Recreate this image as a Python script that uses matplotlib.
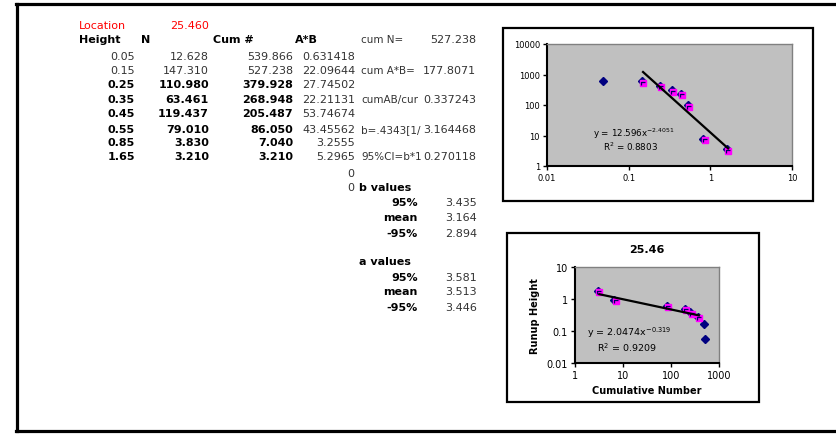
#spreadsheet sheet with two log-log runup charts
import matplotlib
matplotlib.use("Agg")
import matplotlib.pyplot as plt
from matplotlib.lines import Line2D
from matplotlib.patches import Rectangle
from matplotlib.path import Path
from matplotlib.ticker import FixedLocator, FixedFormatter, NullLocator
import matplotlib.transforms as mtrans
import numpy as np

#table data
location = "25.460"
height = [0.05, 0.15, 0.25, 0.35, 0.45, 0.55, 0.85, 1.65]
n_vals = [12.628, 147.310, 110.980, 63.461, 119.437, 79.010, 3.830, 3.210]
cum = [539.866, 527.238, 379.928, 268.948, 205.487, 86.050, 7.040, 3.210]
ab = ["0.631418", "22.09644", "27.74502", "22.21131", "53.74674", "43.45562", "3.2555", "5.2965"]
#labels as they show in the sheet (cut off by the next cell)
side_names = ["cum N=", "cum A*B=", "cumAB/cur", "b=.4343[1/", "95%CI=b*1"]
side_vals = ["527.238", "177.8071", "0.337243", "3.164468", "0.270118"]
b_stats = ["3.435", "3.164", "2.894"]
a_stats = ["3.581", "3.513", "3.446"]
stat_names = ["95%", "mean", "-95%"]

#trendline coefficients shown on the charts
fit1 = (12.596, -2.4051, "0.8803")
fit2 = (2.0474, -0.319, "0.9209")

W, H = 836, 435
fig = plt.figure(figsize=(W / 100, H / 100), dpi=100)

def fx(x):
    return x / W

def fy(y):
    return 1 - y / H

def put(x, y, s, ha="left", bold=False, color="black", size=8):
    return fig.text(fx(x), fy(y), s, ha=ha, va="center", fontsize=size,
                    fontweight="bold" if bold else "normal", color=color)

#sheet frame
for xs, ys in [([16, W], [5, 5]), ([17, 17], [5, 432]), ([16, W], [432, 432])]:
    fig.add_artist(Line2D([fx(v) for v in xs], [fy(v) for v in ys], color="black", lw=2.3))

#table
put(79, 26, "Location", color="red")
put(209, 26, location, ha="right", color="red")
put(79, 40, "Height", bold=True)
put(141, 40, "N", bold=True)
put(213, 40, "Cum #", bold=True)
put(295, 40, "A*B", bold=True)
rows_y = [57, 71, 85, 100, 114, 130, 143, 157]
for i, y in enumerate(rows_y):
    b = i >= 2
    col = "black" if b else "#333333"
    put(135, y, f"{height[i]:.2f}", ha="right", bold=b, color=col)
    put(209, y, f"{n_vals[i]:.3f}", ha="right", bold=b, color=col)
    put(293, y, f"{cum[i]:.3f}", ha="right", bold=b, color=col)
    put(355, y, ab[i], ha="right", color="#333333")

side_y = [40, 71, 100, 130, 157]
for name, val, y in zip(side_names, side_vals, side_y):
    put(361, y, name, color="#333333", size=7.5)
    put(476, y, val, ha="right", color="#333333")
put(354, 174, "0", ha="right", color="#333333")
put(354, 188, "0", ha="right", color="#333333")
put(359, 188, "b values", bold=True)
for name, val, y in zip(stat_names, b_stats, [203, 218, 234]):
    put(418, y, name, ha="right", bold=True)
    put(477, y, val, ha="right", color="#333333")
put(359, 262, "a values", bold=True)
for name, val, y in zip(stat_names, a_stats, [278, 292, 308]):
    put(418, y, name, ha="right", bold=True)
    put(477, y, val, ha="right", color="#333333")

#chart boxes
for x0, y0, x1, y1 in [(503, 29, 813, 202), (507, 234, 759, 403)]:
    fig.add_artist(Rectangle((fx(x0), fy(y1)), fx(x1 - x0), (y1 - y0) / H,
                             transform=fig.transFigure, fill=False, ec="black", lw=1.6))

def style(ax, xt, yt, size):
    ax.set_xscale("log")
    ax.set_yscale("log")
    ax.set_facecolor("#C0C0C0")
    for s in ["top", "right"]:
        ax.spines[s].set_color("#808080")
        ax.spines[s].set_linewidth(1)
    for s in ["left", "bottom"]:
        ax.spines[s].set_color("black")
        ax.spines[s].set_linewidth(1.5)
    ax.xaxis.set_major_locator(FixedLocator(xt))
    ax.xaxis.set_major_formatter(FixedFormatter([f"{v:g}" for v in xt]))
    ax.yaxis.set_major_locator(FixedLocator(yt))
    ax.yaxis.set_major_formatter(FixedFormatter([f"{v:g}" for v in yt]))
    ax.xaxis.set_minor_locator(NullLocator())
    ax.yaxis.set_minor_locator(NullLocator())
    ax.tick_params(direction="out", length=3, width=1, labelsize=size, pad=2)
    ax.set_xlim(xt[0], xt[-1])
    ax.set_ylim(yt[0], yt[-1])

shift = mtrans.ScaledTranslation(-1.2 / 100, 1.5 / 100, fig.dpi_scale_trans)
#small dark corner mark drawn inside each pink square
corner = Path([(-0.5, -0.7), (-0.5, 0.4), (0.5, 0.4)], [Path.MOVETO, Path.LINETO, Path.LINETO])

def markers(ax, xs, ys, xs2, ys2):
    ax.plot(xs, ys, "D", color="#000080", ms=4, ls="none", zorder=3,
            transform=ax.transData + shift)
    ax.plot(xs2, ys2, "s", color="#FF00FF", ms=5, ls="none", zorder=4)
    ax.plot(xs2, ys2, marker=corner, ms=3.2, mfc="none", mec="#000060", mew=0.9,
            ls="none", zorder=4.5)

#chart 1: cumulative number vs height
ax1 = fig.add_axes([fx(547), fy(167), fx(792 - 547), (167 - 45) / H])
style(ax1, [0.01, 0.1, 1, 10], [1, 10, 100, 1000, 10000], 6)
markers(ax1, height, cum, height[1:], cum[1:])
x_ends = np.array([min(height[1:]), max(height[1:])])
ax1.plot(x_ends, fit1[0] * x_ends ** fit1[1], color="black", lw=1.6, zorder=5)
fig.text(fx(593), fy(134), f"y = {fit1[0]}x$^{{{fit1[1]}}}$", fontsize=6.3, va="center")
fig.text(fx(603), fy(147), f"R$^2$ = {fit1[2]}", fontsize=6.3, va="center")

#chart 2: height vs cumulative number
ax2 = fig.add_axes([fx(575), fy(364), fx(719 - 575), (364 - 268) / H])
style(ax2, [1, 10, 100, 1000], [0.01, 0.1, 1, 10], 7)
markers(ax2, cum, height, cum[2:], height[2:])
x_ends2 = np.array([min(cum[2:]), max(cum[2:])])
ax2.plot(x_ends2, fit2[0] * x_ends2 ** fit2[1], color="black", lw=1.6, zorder=5)
ax2.set_title("25.46", fontsize=8, fontweight="bold", pad=11)
ax2.set_xlabel("Cumulative Number", fontsize=7, fontweight="bold", labelpad=4)
ax2.set_ylabel("Runup Height", fontsize=7, fontweight="bold", labelpad=5)
fig.text(fx(587), fy(333), f"y = {fit2[0]}x$^{{{fit2[1]}}}$", fontsize=6.8, va="center")
fig.text(fx(597), fy(348), f"R$^2$ = {fit2[2]}", fontsize=6.8, va="center")

fig.savefig("out.png", dpi=100)
